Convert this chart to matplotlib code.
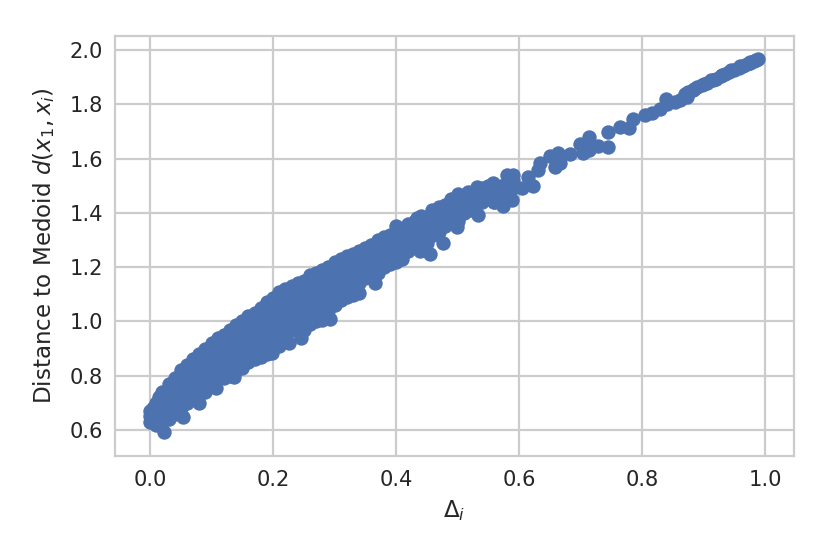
import matplotlib
matplotlib.use("Agg")
import matplotlib.pyplot as plt

# values: dense band by columns, then the sparse tail
band_x = [
    0.00, 0.00, 0.00, 0.005, 0.005, 0.01, 0.01, 0.01, 0.015, 0.015, 0.02, 0.02, 0.02, 0.023,
    0.03, 0.03, 0.03, 0.03, 0.04, 0.04, 0.04, 0.04, 0.05, 0.05, 0.05, 0.054,
    0.06, 0.06, 0.06, 0.07, 0.07, 0.07, 0.08, 0.08, 0.08, 0.09, 0.09, 0.09,
    0.10, 0.10, 0.10, 0.107, 0.11, 0.11, 0.12, 0.12, 0.12, 0.13, 0.13, 0.13, 0.136,
    0.14, 0.14, 0.14, 0.15, 0.15, 0.15, 0.16, 0.16, 0.16, 0.17, 0.17, 0.17,
    0.18, 0.18, 0.18, 0.19, 0.19, 0.19, 0.198, 0.20, 0.20, 0.21, 0.21, 0.21,
    0.22, 0.22, 0.22, 0.226, 0.23, 0.23, 0.24, 0.24, 0.245, 0.25, 0.25, 0.25,
    0.26, 0.26, 0.26, 0.27, 0.27, 0.27, 0.28, 0.28, 0.28, 0.29, 0.29, 0.293,
    0.30, 0.30, 0.30, 0.31, 0.31, 0.31, 0.32, 0.32, 0.32, 0.33, 0.33, 0.33, 0.339, 0.34,
    0.34, 0.35, 0.35, 0.36, 0.36, 0.366, 0.37, 0.37, 0.38, 0.38, 0.38, 0.39, 0.39, 0.39,
    0.40, 0.40, 0.40, 0.41, 0.41, 0.42, 0.42, 0.43, 0.43, 0.434, 0.439, 0.44, 0.44,
]
band_y = [
    0.67, 0.65, 0.63, 0.68, 0.64, 0.70, 0.66, 0.62, 0.72, 0.64, 0.74, 0.68, 0.63, 0.593,
    0.77, 0.72, 0.67, 0.64, 0.79, 0.74, 0.70, 0.66, 0.82, 0.76, 0.70, 0.648,
    0.84, 0.78, 0.70, 0.86, 0.80, 0.72, 0.88, 0.81, 0.70, 0.90, 0.83, 0.74,
    0.92, 0.85, 0.77, 0.755, 0.94, 0.80, 0.95, 0.87, 0.79, 0.97, 0.89, 0.80, 0.795,
    0.985, 0.90, 0.82, 1.00, 0.92, 0.83, 1.02, 0.94, 0.85, 1.03, 0.95, 0.86,
    1.05, 0.97, 0.87, 1.07, 0.98, 0.88, 0.884, 1.085, 1.00, 1.11, 1.02, 0.91,
    1.12, 1.03, 0.93, 0.92, 1.13, 1.00, 1.14, 1.03, 0.94, 1.15, 1.06, 0.97,
    1.17, 1.08, 0.99, 1.18, 1.09, 1.00, 1.19, 1.10, 1.005, 1.20, 1.12, 1.01,
    1.22, 1.14, 1.06, 1.23, 1.15, 1.08, 1.24, 1.17, 1.09, 1.25, 1.18, 1.097, 1.105, 1.26,
    1.19, 1.27, 1.18, 1.28, 1.20, 1.142, 1.30, 1.22, 1.31, 1.25, 1.20, 1.32, 1.27, 1.23,
    1.35, 1.28, 1.22, 1.34, 1.25, 1.36, 1.29, 1.37, 1.30, 1.38, 1.26, 1.39, 1.32,
]
fill_x = [
    0.01, 0.01, 0.02, 0.02, 0.03, 0.03, 0.04, 0.04, 0.04, 0.05, 0.05, 0.05,
    0.06, 0.06, 0.06, 0.07, 0.07, 0.07, 0.08, 0.08, 0.08, 0.09, 0.09, 0.09,
    0.10, 0.10, 0.10, 0.11, 0.11, 0.11, 0.12, 0.12, 0.12, 0.13, 0.13, 0.13,
    0.14, 0.14, 0.14, 0.15, 0.15, 0.15, 0.16, 0.16, 0.16, 0.17, 0.17, 0.17,
    0.18, 0.18, 0.18, 0.19, 0.19, 0.19, 0.20, 0.20, 0.20, 0.21, 0.21, 0.21,
    0.22, 0.22, 0.22, 0.23, 0.23, 0.23, 0.24, 0.24, 0.24, 0.25, 0.25, 0.25,
    0.26, 0.26, 0.26, 0.27, 0.27, 0.27, 0.28, 0.28, 0.28, 0.29, 0.29, 0.29,
    0.30, 0.30, 0.31, 0.31, 0.31, 0.32, 0.32, 0.32, 0.33, 0.33, 0.33,
    0.34, 0.34, 0.34, 0.35, 0.35, 0.35, 0.36, 0.36, 0.37, 0.37, 0.38, 0.38,
    0.39, 0.39, 0.39, 0.40, 0.40, 0.41, 0.41, 0.41, 0.42, 0.42, 0.43, 0.43,
    0.44, 0.44, 0.44, 0.45, 0.45, 0.45, 0.46, 0.46, 0.47, 0.47, 0.48, 0.48, 0.48,
    0.49, 0.49, 0.50, 0.50, 0.50, 0.51, 0.51, 0.51, 0.52, 0.52, 0.52, 0.53, 0.53,
    0.54, 0.54, 0.55, 0.55, 0.56, 0.56, 0.56, 0.57, 0.57, 0.57, 0.58, 0.58, 0.59, 0.59,
]
fill_y = [
    0.68, 0.64, 0.71, 0.66, 0.745, 0.695, 0.765, 0.72, 0.68, 0.79, 0.73, 0.68,
    0.81, 0.75, 0.72, 0.83, 0.77, 0.74, 0.85, 0.78, 0.74, 0.865, 0.80, 0.77,
    0.885, 0.82, 0.79, 0.90, 0.86, 0.83, 0.91, 0.88, 0.83, 0.93, 0.85, 0.83,
    0.945, 0.87, 0.84, 0.96, 0.88, 0.85, 0.98, 0.90, 0.87, 0.99, 0.91, 0.89,
    1.01, 0.93, 0.89, 1.025, 0.94, 0.91, 1.04, 0.96, 0.92, 1.065, 0.98, 0.94,
    1.075, 0.99, 0.95, 1.09, 1.05, 0.97, 1.10, 1.07, 0.99, 1.11, 1.02, 0.99,
    1.13, 1.04, 1.02, 1.14, 1.05, 1.03, 1.15, 1.06, 1.03, 1.16, 1.08, 1.04,
    1.18, 1.10, 1.19, 1.12, 1.10, 1.205, 1.13, 1.11, 1.215, 1.14, 1.13,
    1.225, 1.15, 1.14, 1.23, 1.20, 1.16, 1.24, 1.17, 1.26, 1.18, 1.28, 1.22,
    1.30, 1.25, 1.21, 1.32, 1.25, 1.30, 1.27, 1.23, 1.33, 1.26, 1.34, 1.28,
    1.36, 1.29, 1.27, 1.38, 1.31, 1.29, 1.39, 1.35, 1.40, 1.33, 1.41, 1.39, 1.35,
    1.43, 1.40, 1.45, 1.40, 1.37, 1.45, 1.44, 1.40, 1.46, 1.43, 1.41, 1.47, 1.43,
    1.47, 1.44, 1.48, 1.46, 1.49, 1.46, 1.44, 1.50, 1.47, 1.44, 1.51, 1.46, 1.52, 1.49,
]
tail_x = [
    0.455, 0.45, 0.458, 0.46, 0.47, 0.47, 0.477, 0.48, 0.48, 0.49, 0.49, 0.499, 0.50, 0.51,
    0.517, 0.52, 0.531, 0.533, 0.54, 0.55, 0.558, 0.56, 0.574, 0.58, 0.58, 0.588, 0.59,
    0.604, 0.615, 0.623, 0.631, 0.634, 0.65, 0.659, 0.664, 0.664, 0.667, 0.683, 0.699,
    0.704, 0.713, 0.714, 0.728, 0.744, 0.745, 0.764, 0.779, 0.786, 0.805, 0.816, 0.829,
    0.839, 0.84, 0.854, 0.862, 0.873, 0.875, 0.883, 0.89, 0.897, 0.905, 0.912, 0.92,
    0.928, 0.935, 0.942, 0.95, 0.957, 0.964, 0.97, 0.976, 0.982, 0.986, 0.989,
    0.87, 0.885, 0.90, 0.915, 0.93, 0.945, 0.96, 0.975,
]
tail_y = [
    1.248, 1.35, 1.41, 1.32, 1.42, 1.36, 1.289, 1.43, 1.37, 1.45, 1.38, 1.348, 1.47, 1.42,
    1.477, 1.44, 1.495, 1.392, 1.49, 1.50, 1.51, 1.44, 1.425, 1.54, 1.48, 1.447, 1.54,
    1.49, 1.532, 1.50, 1.558, 1.584, 1.61, 1.57, 1.62, 1.613, 1.584, 1.617, 1.654,
    1.62, 1.68, 1.632, 1.647, 1.70, 1.643, 1.716, 1.712, 1.745, 1.76, 1.768, 1.783,
    1.82, 1.80, 1.808, 1.815, 1.827, 1.845, 1.853, 1.865, 1.872, 1.88, 1.888, 1.895,
    1.903, 1.912, 1.92, 1.927, 1.934, 1.94, 1.947, 1.953, 1.959, 1.963, 1.967,
    1.84, 1.855, 1.875, 1.89, 1.91, 1.925, 1.94, 1.955,
]
x_ticks = [0.0, 0.2, 0.4, 0.6, 0.8, 1.0]
y_ticks = [0.6, 0.8, 1.0, 1.2, 1.4, 1.6, 1.8, 2.0]

plt.rcParams["font.family"] = "DejaVu Sans"
plt.rcParams["text.color"] = "0.15"
plt.rcParams["axes.labelcolor"] = "0.15"
plt.rcParams["xtick.color"] = "0.15"
plt.rcParams["ytick.color"] = "0.15"

fig, ax = plt.subplots(figsize=(830 / 144, 554 / 144), dpi=144)
fig.subplots_adjust(left=115 / 830, right=794 / 830, top=1 - 36 / 554, bottom=1 - 456 / 554)

ax.scatter(band_x + fill_x + tail_x, band_y + fill_y + tail_y, s=52,
           color="#4c72b0", linewidths=0, zorder=3)

ax.set_xlim(-0.057, 1.047)
ax.set_ylim(0.504, 2.052)
ax.set_xticks(x_ticks)
ax.set_yticks(y_ticks)
ax.tick_params(axis="x", length=0, labelsize=10.5, pad=7)
ax.tick_params(axis="y", length=0, labelsize=10.5, pad=6)
ax.grid(True, color="#cccccc", lw=1.1)
ax.set_axisbelow(True)
for s in ax.spines.values():
    s.set_color("#cccccc")
    s.set_linewidth(1.1)
ax.set_xlabel(r"$\Delta_i$", fontsize=11.5, labelpad=4)
ax.set_ylabel(r"Distance to Medoid $d(x_1, x_i)$", fontsize=11.5, labelpad=6)

fig.savefig("out.png", dpi=144)
